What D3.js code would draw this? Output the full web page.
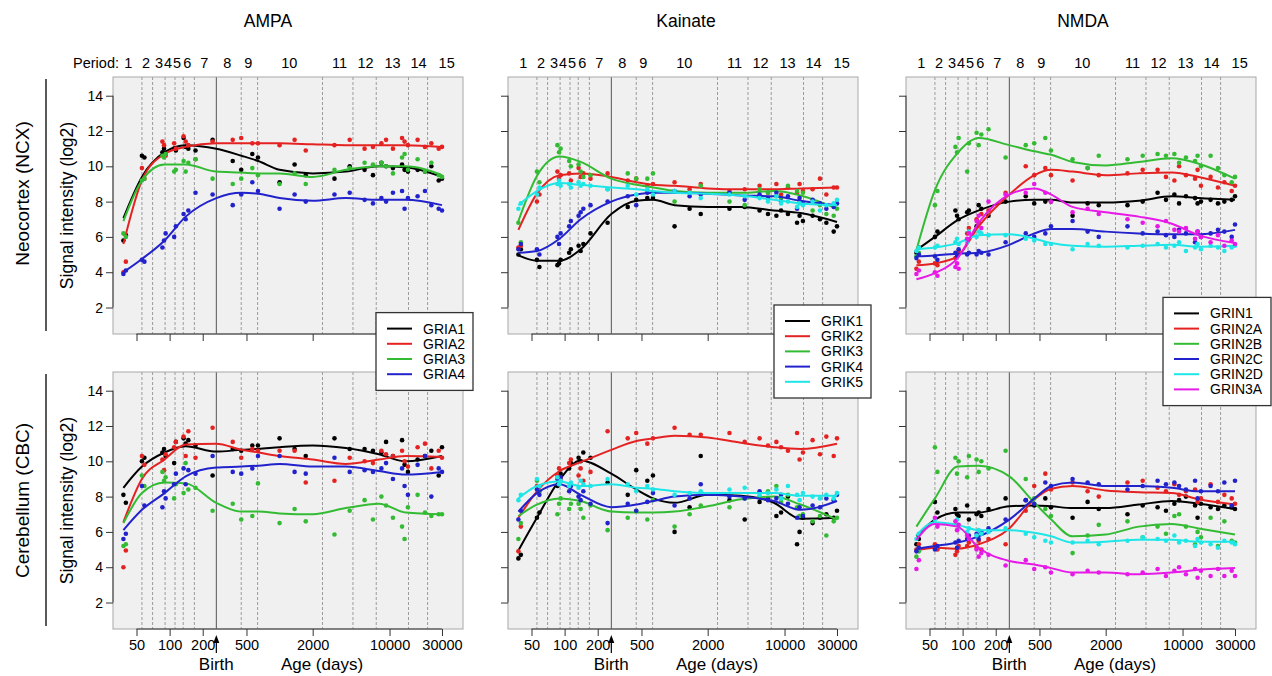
<!DOCTYPE html>
<html>
<head>
<meta charset="utf-8">
<script src="https://cdn.jsdelivr.net/npm/d3@7"></script>
<style>
  body { margin: 0; background: #fff; }
  svg text { font-family: "Liberation Sans", Arial, sans-serif; fill: #000; }
</style>
</head>
<body>
<svg id="chart" width="1272" height="676"></svg>
<script>
// ---- data ----
const families = ["AMPA", "Kainate", "NMDA"];
const regions = ["Neocortex (NCX)", "Cerebellum (CBC)"];
const ampaGenes = ["GRIA1", "GRIA2", "GRIA3", "GRIA4"];
const kainateGenes = ["GRIK1", "GRIK2", "GRIK3", "GRIK4", "GRIK5"];
const nmdaGenes = ["GRIN1", "GRIN2A", "GRIN2B", "GRIN2C", "GRIN2D", "GRIN3A"];
const geneColors = ["#000000", "#e52222", "#33bb33", "#2222cc", "#1fe6e6", "#e619e6"];

const periodLabels = ["1","2","3","4","5","6","7","8","9","10","11","12","13","14","15"];
const periodLabelDays = [42, 61, 80, 97, 117, 145, 207, 335, 520, 1227, 3506, 6050, 10660, 18380, 33100];
const periodBounds = [56, 70, 91, 112, 133, 168, 448, 631, 2457, 4649, 7571, 14876, 22181];
const birthDay = 266;
const xTicks = [50, 100, 200, 500, 2000, 10000, 30000];
const yTicks = [2, 4, 6, 8, 10, 12, 14];

// ages (days post conception) of the samples
const sampleDays = [38, 40, 56, 59, 86, 89, 92, 110, 114, 134, 140, 148, 172, 246, 375, 448, 565, 636,
  1000, 1370, 1730, 3157, 4343, 5930, 7070, 8430, 9300, 10740, 13000, 13700, 14700, 18000, 21000, 24000, 28000, 30000];
// ages at which the smoothed curves are read
const fitDays = [38, 56, 90, 140, 266, 450, 640, 1000, 2000, 4000, 8000, 14000, 30000];

const ampaNcxFit = [
  [7.06, 9.4, 10.8, 11.2, 11.0, 10.6, 10.3, 9.8, 9.6, 9.7, 10.0, 9.95, 9.4],
  [5.6, 9.2, 10.7, 11.1, 11.3, 11.3, 11.3, 11.3, 11.25, 11.2, 11.2, 11.2, 11.1],
  [6.9, 9.2, 10.1, 10.1, 9.7, 9.65, 9.6, 9.6, 9.4, 9.8, 10.0, 10.0, 9.5],
  [4.0, 4.75, 5.8, 7.15, 8.2, 8.5, 8.45, 8.2, 8.05, 8.2, 8.1, 8.1, 7.8]
];
const ampaNcxPts = [
  [5.8,6.1,10.6,10.5,10.8,11.0,10.7,11.0,10.9,11.6,11.1,11.0,10.9,11.5,10.3,9.8,10.7,10.5,9.1,10.1,9.5,9.3,10.0,9.8,9.5,10.2,10.0,9.9,10.1,9.8,9.7,9.8,9.7,10.0,9.2,9.3],
  [4.0,4.6,9.9,9.3,11.4,11.2,10.6,11.3,11.0,11.7,11.4,11.2,10.4,11.4,11.5,11.6,11.3,11.3,11.2,11.5,10.9,11.2,11.5,11.0,11.1,11.3,11.5,11.0,11.6,11.4,11.2,11.5,11.1,11.3,11.0,11.1],
  [6.2,6.0,9.2,9.3,10.6,10.5,10.7,9.7,9.8,10.3,9.7,10.2,10.4,9.3,9.0,9.3,9.9,9.5,9.0,9.6,9.0,9.8,9.9,10.2,10.1,10.2,10.0,9.6,10.5,10.7,9.8,10.4,9.7,10.2,9.5,9.4],
  [3.9,4.1,4.7,4.6,5.4,5.8,6.2,6.0,6.6,7.3,7.0,7.5,8.5,8.4,7.8,8.4,9.1,8.6,7.6,8.4,8.0,8.4,8.5,8.1,7.9,8.2,8.0,8.5,8.6,7.6,8.2,8.3,8.6,7.8,7.6,7.5]
];
const ampaCbcFit = [
  [8.5, 9.7, 10.5, 10.85, 10.55, 10.65, 10.7, 10.8, 10.9, 10.75, 10.4, 10.0, 10.3],
  [6.55, 9.0, 10.1, 10.95, 11.0, 10.65, 10.5, 10.3, 10.1, 9.85, 10.1, 10.3, 10.25],
  [6.5, 8.2, 8.8, 8.75, 7.65, 7.15, 7.15, 7.05, 7.0, 7.35, 7.6, 7.1, 7.0],
  [6.1, 7.25, 8.2, 9.15, 9.65, 9.7, 9.75, 9.85, 9.7, 9.7, 9.45, 9.25, 9.4]
];
const ampaCbcPts = [
  [8.1,7.65,10.0,10.2,10.5,10.7,10.3,9.9,11.1,11.3,11.0,11.2,10.9,9.2,10.7,10.6,10.9,10.9,11.3,10.7,10.3,11.3,10.7,10.7,10.6,10.5,11.1,10.3,11.2,9.8,9.4,10.1,10.3,10.6,9.2,10.8],
  [4.0,4.95,10.3,9.8,10.1,9.5,10.4,10.8,11.1,11.4,10.3,11.7,10.2,11.9,11.1,10.2,10.7,10.6,10.6,10.6,8.8,8.9,10.2,10.0,9.9,10.6,10.4,10.3,10.6,10.0,9.7,10.8,11.0,9.6,10.6,10.2],
  [5.2,5.3,9.2,8.6,9.4,8.9,9.1,7.9,8.7,8.2,9.9,8.4,8.5,7.2,7.6,6.7,6.9,8.75,6.5,7.3,6.6,5.85,7.2,7.8,6.7,8.0,7.5,6.8,6.3,5.6,7.4,8.1,7.1,6.9,7.0,7.0],
  [5.6,5.9,8.6,7.5,7.4,8.3,7.9,8.7,9.3,9.6,8.7,9.5,9.3,10.3,9.4,9.3,9.6,10.3,10.3,9.4,9.3,10.2,9.4,9.5,9.4,9.6,9.9,9.0,9.6,8.6,8.1,9.8,10.3,8.0,9.6,9.4]
];

const kainateNcxFit = [
  [4.95, 4.65, 4.65, 5.3, 7.3, 8.05, 8.1, 7.8, 7.7, 7.7, 7.5, 7.35, 6.85],
  [6.4, 8.45, 9.5, 9.6, 9.4, 9.1, 8.95, 8.9, 8.75, 8.7, 8.7, 8.75, 8.8],
  [6.9, 9.45, 10.55, 10.25, 9.3, 8.95, 8.8, 8.6, 8.5, 8.5, 8.6, 8.35, 7.6],
  [5.1, 5.2, 5.9, 7.0, 8.0, 8.4, 8.5, 8.5, 8.45, 8.35, 8.3, 8.05, 7.8],
  [7.8, 8.6, 9.05, 8.95, 8.8, 8.7, 8.6, 8.5, 8.45, 8.35, 8.1, 7.9, 7.8]
];
const kainateNcxPts = [
  [5.0,5.3,4.7,4.3,4.4,4.5,4.7,5.1,5.3,5.5,5.2,5.6,6.2,6.8,7.7,8.1,8.2,8.2,6.6,7.6,7.3,7.6,7.7,7.5,7.3,7.2,7.5,7.3,6.8,7.2,6.9,7.2,7.0,6.8,6.3,6.6],
  [5.4,5.5,8.0,8.4,9.7,9.3,9.5,9.6,9.2,9.9,9.4,9.6,9.3,9.6,9.2,9.3,8.9,9.0,9.1,8.7,9.0,8.6,8.7,8.9,8.5,9.0,8.4,8.8,8.5,9.0,8.6,8.7,9.3,8.4,8.8,8.8],
  [6.8,5.7,9.7,9.1,11.2,10.8,11.0,10.3,10.0,10.1,9.7,9.4,9.5,8.7,9.6,9.3,9.3,9.6,8.0,8.5,8.9,8.0,7.8,8.7,8.5,8.3,8.2,8.9,8.6,8.0,8.5,7.5,7.8,7.3,7.2,7.6],
  [5.3,5.6,5.3,5.0,6.0,5.6,6.2,6.6,6.9,7.2,7.4,7.6,7.8,8.0,8.3,7.8,8.5,8.5,8.6,8.3,8.4,8.5,8.1,8.4,8.2,8.5,8.0,8.3,7.6,8.2,7.9,8.1,7.9,7.6,7.7,7.9],
  [7.6,7.9,8.4,8.8,9.0,9.2,8.9,9.0,8.8,9.1,8.9,9.0,8.9,8.7,8.9,8.4,8.7,8.4,8.6,8.5,8.2,8.4,8.3,8.2,8.0,8.3,7.9,8.0,7.7,7.9,7.8,8.0,7.5,7.8,7.9,8.1]
];
const kainateCbcFit = [
  [4.95, 6.8, 8.95, 10.05, 9.3, 8.4, 7.9, 7.65, 8.1, 8.05, 7.65, 6.75, 6.8],
  [6.8, 8.3, 9.45, 9.95, 10.65, 11.15, 11.3, 11.45, 11.35, 11.05, 10.8, 10.7, 11.0],
  [6.9, 7.55, 7.9, 7.75, 7.15, 7.1, 7.1, 7.15, 7.45, 7.85, 8.0, 7.55, 6.7],
  [7.15, 8.2, 8.7, 8.1, 7.4, 7.55, 7.75, 8.0, 8.1, 8.0, 7.75, 7.25, 7.75],
  [7.9, 8.6, 8.85, 8.6, 8.7, 8.5, 8.45, 8.3, 8.2, 8.2, 8.2, 8.05, 8.05]
];
const kainateCbcPts = [
  [4.5,4.7,6.8,7.1,8.6,8.9,9.3,9.6,9.9,10.2,10.0,10.5,10.2,8.8,8.1,9.5,8.9,9.2,6.0,7.4,10.3,7.8,6.7,7.7,7.9,6.9,7.1,8.0,5.3,6.0,6.8,6.5,6.8,7.0,6.8,7.2],
  [4.9,6.3,8.6,8.3,9.2,9.6,9.0,9.9,10.1,9.2,9.6,8.9,9.4,11.7,11.3,11.6,11.0,11.3,11.9,11.5,11.5,11.6,11.1,11.3,10.9,11.1,10.8,10.6,11.6,10.1,10.5,11.2,10.4,11.4,10.3,11.3],
  [5.6,6.5,8.9,8.3,7.0,7.6,7.9,7.3,7.6,7.6,7.3,6.8,7.5,6.1,6.8,7.2,6.7,7.8,6.3,7.0,7.5,7.4,7.9,8.0,8.3,8.6,7.7,8.1,7.4,6.9,7.0,6.6,6.9,5.8,6.6,6.8],
  [6.7,7.2,8.4,8.1,9.0,8.7,9.1,8.3,8.6,8.0,7.8,8.3,7.6,6.5,7.6,7.2,7.7,8.2,7.5,7.9,8.7,8.0,7.9,8.3,7.8,7.9,8.1,7.6,6.8,7.4,6.9,7.5,7.4,7.9,7.8,8.1],
  [7.8,8.1,9.0,8.6,9.1,8.7,8.9,8.6,8.8,8.5,8.9,8.7,8.6,9.0,8.7,8.3,8.6,8.4,8.1,8.2,8.3,8.4,8.5,8.1,8.2,8.4,7.9,8.6,8.1,7.8,8.2,8.0,7.9,8.1,7.9,8.2]
];

const nmdaNcxFit = [
  [5.25, 6.0, 6.95, 7.5, 8.0, 8.1, 8.1, 7.95, 7.95, 8.05, 8.3, 8.2, 8.1],
  [4.4, 4.5, 4.9, 6.6, 8.4, 9.5, 9.8, 9.7, 9.5, 9.6, 9.65, 9.4, 8.9],
  [5.25, 8.65, 10.75, 11.6, 11.2, 10.85, 10.65, 10.25, 10.05, 10.25, 10.45, 10.15, 9.3],
  [4.9, 4.95, 5.05, 5.1, 5.55, 6.2, 6.45, 6.45, 6.3, 6.2, 6.15, 6.15, 6.4],
  [5.3, 5.4, 5.65, 6.1, 6.15, 5.9, 5.65, 5.5, 5.45, 5.5, 5.55, 5.45, 5.5],
  [3.6, 3.95, 4.8, 6.8, 8.4, 8.75, 8.4, 7.7, 7.4, 7.15, 6.75, 6.1, 5.65]
];
const nmdaNcxPts = [
  [5.1,5.4,6.0,6.3,7.5,7.2,7.0,7.4,7.5,6.6,7.8,7.6,7.2,8.0,8.3,7.9,8.0,8.0,7.2,7.9,7.8,7.8,8.0,8.5,8.1,8.4,7.9,8.3,8.2,7.9,8.0,8.1,7.9,8.0,8.1,8.3],
  [4.2,4.6,4.5,4.4,4.8,5.0,5.2,6.2,6.5,7.0,6.8,7.3,7.5,8.5,10.0,9.5,9.9,9.5,9.2,9.9,9.5,9.6,9.8,9.8,9.4,9.2,10.0,9.5,9.3,9.8,8.9,9.4,8.8,9.1,8.6,8.9],
  [4.9,5.1,7.8,8.6,11.1,10.8,11.6,9.7,11.3,11.9,11.2,11.8,12.1,10.5,11.2,11.3,11.6,10.9,10.4,9.9,10.6,10.4,10.6,10.7,10.6,10.7,10.2,10.5,10.3,10.6,10.0,10.6,9.9,9.5,9.1,9.4],
  [4.8,5.0,4.9,4.7,5.1,4.9,5.3,5.0,5.1,5.0,5.2,5.1,5.0,5.7,6.2,6.0,6.2,6.6,6.9,6.3,6.0,6.6,6.2,6.3,6.1,6.0,6.4,6.2,5.7,6.3,6.0,6.2,6.4,6.3,6.0,6.7],
  [5.2,5.4,5.4,5.5,5.7,5.9,5.6,5.7,6.3,6.0,6.3,6.2,6.1,6.1,5.9,5.8,5.6,5.6,5.3,5.6,5.5,5.4,5.5,5.6,5.4,5.5,5.7,5.2,5.4,5.6,5.3,5.5,5.4,5.2,5.4,5.5],
  [3.9,4.1,4.0,3.8,4.3,4.5,4.2,5.9,6.2,6.9,7.2,6.5,8.0,8.4,8.5,9.0,8.5,8.0,7.4,7.6,7.3,7.0,6.8,6.6,6.9,6.4,6.3,6.5,5.9,6.3,6.0,5.7,6.1,5.5,5.8,5.6]
];
const nmdaCbcFit = [
  [5.75, 6.7, 7.1, 7.1, 7.45, 7.5, 7.45, 7.35, 7.35, 7.55, 7.75, 7.6, 7.3],
  [4.95, 5.1, 5.05, 5.3, 6.2, 7.85, 8.45, 8.6, 8.35, 8.25, 8.2, 7.85, 7.55],
  [6.3, 7.9, 9.7, 9.75, 9.15, 7.65, 6.7, 5.75, 5.85, 6.3, 6.45, 6.2, 5.85],
  [5.05, 5.2, 5.4, 5.75, 6.7, 7.9, 8.6, 8.8, 8.6, 8.6, 8.5, 8.3, 8.3],
  [5.8, 6.55, 6.4, 6.1, 6.1, 5.95, 5.75, 5.4, 5.45, 5.55, 5.55, 5.45, 5.45],
  [5.55, 6.45, 6.3, 5.1, 4.35, 4.15, 3.95, 3.7, 3.7, 3.6, 3.7, 3.85, 3.95]
];
const nmdaCbcPts = [
  [5.3,5.6,7.7,7.1,7.3,7.0,6.9,7.5,6.7,7.0,7.1,6.9,7.3,7.9,7.8,7.5,7.9,7.4,6.8,7.7,7.3,7.0,7.5,7.4,7.2,7.6,7.8,8.0,7.5,6.8,7.6,7.4,7.3,7.5,7.4,7.3],
  [5.0,5.3,5.3,5.0,4.7,4.9,5.2,5.2,5.4,5.1,5.5,5.0,5.6,5.3,7.2,8.6,9.3,8.4,8.8,8.3,8.0,8.8,8.9,8.5,8.3,8.7,8.1,8.3,8.4,7.7,7.9,8.7,7.7,8.1,7.9,7.6],
  [4.6,4.9,10.8,9.4,10.2,9.3,10.0,9.1,10.3,10.1,9.4,10.0,9.6,10.6,9.0,7.9,7.3,6.9,4.8,5.8,6.4,6.6,5.7,6.3,5.9,6.9,7.0,6.3,5.3,6.0,5.7,6.8,5.2,6.6,5.5,5.4],
  [4.9,5.1,5.0,5.2,5.4,5.1,5.5,5.6,5.8,5.9,5.6,6.0,6.2,6.7,7.8,7.6,8.8,8.6,9.0,8.8,8.7,8.4,8.6,8.9,8.7,8.8,8.6,8.4,8.9,7.9,8.3,8.6,8.3,8.8,7.5,8.9],
  [5.6,5.9,6.7,6.4,6.4,6.7,6.2,6.0,6.2,5.8,6.1,5.9,6.0,6.2,5.9,5.7,5.5,5.4,5.4,5.5,5.3,5.5,5.7,5.6,5.5,5.8,5.4,5.5,5.2,5.6,5.4,5.3,5.1,5.5,5.4,5.3],
  [3.9,4.4,6.8,6.3,6.6,6.1,6.4,5.8,5.6,5.0,4.6,4.8,4.7,4.1,4.4,3.9,4.0,3.7,3.6,3.8,3.7,3.6,3.7,3.9,3.5,3.8,4.0,3.6,3.9,3.4,3.8,3.5,3.9,3.5,3.8,3.5]
];

// ---- layout ----
const colLeft = [113, 508, 906];
const colWidth = 350;
const rowTop = [77, 372];
const rowHeight = 257;
const titleX = [268, 686, 1083];
const legendLeft = [376, 774, 1163];
const legendRight = [473, 871, 1271];

const panels = [
  { col: 0, row: 0, genes: ampaGenes, fit: ampaNcxFit, pts: ampaNcxPts },
  { col: 0, row: 1, genes: ampaGenes, fit: ampaCbcFit, pts: ampaCbcPts },
  { col: 1, row: 0, genes: kainateGenes, fit: kainateNcxFit, pts: kainateNcxPts },
  { col: 1, row: 1, genes: kainateGenes, fit: kainateCbcFit, pts: kainateCbcPts },
  { col: 2, row: 0, genes: nmdaGenes, fit: nmdaNcxFit, pts: nmdaNcxPts },
  { col: 2, row: 1, genes: nmdaGenes, fit: nmdaCbcFit, pts: nmdaCbcPts }
];

const svg = d3.select("#chart");

function xScale(col) {
  return d3.scaleLog().domain([30.56, 46570]).range([colLeft[col], colLeft[col] + colWidth]);
}
function yScale(row) {
  return d3.scaleLinear().domain([0.5, 15.06]).range([rowTop[row] + rowHeight, rowTop[row]]);
}

panels.forEach(p => {
  const x = xScale(p.col), y = yScale(p.row);
  const g = svg.append("g");
  const left = colLeft[p.col], top = rowTop[p.row];

  g.append("rect")
    .attr("x", left).attr("y", top)
    .attr("width", colWidth).attr("height", rowHeight)
    .attr("fill", "#f0f0f0");

  // period boundaries
  g.selectAll("line.period")
    .data(periodBounds)
    .enter()
    .append("line")
    .attr("x1", d => x(d)).attr("x2", d => x(d))
    .attr("y1", top).attr("y2", top + rowHeight)
    .attr("stroke", "#777").attr("stroke-width", 0.7)
    .attr("stroke-dasharray", "3,2");

  g.append("line")
    .attr("x1", x(birthDay)).attr("x2", x(birthDay))
    .attr("y1", top).attr("y2", top + rowHeight)
    .attr("stroke", "#555").attr("stroke-width", 1);

  const line = d3.line()
    .x((d, i) => x(fitDays[i]))
    .y(d => y(d))
    .curve(d3.curveMonotoneX);

  p.genes.forEach((gene, gi) => {
    g.append("g")
      .selectAll("circle")
      .data(p.pts[gi])
      .enter()
      .append("circle")
      .attr("cx", (d, i) => x(sampleDays[i]))
      .attr("cy", d => y(d))
      .attr("r", 2.3)
      .attr("fill", geneColors[gi]);

    g.append("path")
      .datum(p.fit[gi])
      .attr("d", line)
      .attr("fill", "none")
      .attr("stroke", geneColors[gi])
      .attr("stroke-width", 2);
  });

  g.append("rect")
    .attr("x", left).attr("y", top)
    .attr("width", colWidth).attr("height", rowHeight)
    .attr("fill", "none").attr("stroke", "#a8a8a8").attr("stroke-width", 1);

  // y axis
  const yAxis = g.append("g")
    .attr("transform", `translate(${left},0)`)
    .call(d3.axisLeft(y).tickValues(yTicks).tickSize(7).tickPadding(3)
      .tickFormat(p.col === 0 ? d3.format("d") : ""));
  yAxis.select(".domain").remove();
  yAxis.selectAll("line").attr("stroke", "#333");
  yAxis.selectAll("text").attr("font-size", 14).attr("font-family", null);
  yAxis.append("line")
    .attr("y1", y(2)).attr("y2", y(14))
    .attr("stroke", "#333");

  // x axis
  const xAxis = g.append("g")
    .attr("transform", `translate(0,${top + rowHeight})`)
    .call(d3.axisBottom(x).tickValues(xTicks).tickSize(7).tickPadding(4)
      .tickFormat(p.row === 1 ? d3.format("d") : ""));
  xAxis.select(".domain").remove();
  xAxis.selectAll("line").attr("stroke", "#333");
  xAxis.selectAll("text").attr("font-size", 14.5).attr("font-family", null);
  xAxis.append("line")
    .attr("x1", x(50)).attr("x2", x(30000))
    .attr("stroke", "#333");

  if (p.col === 0) {
    g.append("text")
      .attr("transform", `translate(${left - 46},${top + rowHeight / 2}) rotate(-90)`)
      .attr("text-anchor", "middle")
      .attr("dy", "0.35em")
      .attr("font-size", 17.5)
      .text("Signal intensity (log2)");
  }

  if (p.row === 0) {
    // period header
    g.selectAll("text.per")
      .data(periodLabels)
      .enter()
      .append("text")
      .attr("x", (d, i) => x(periodLabelDays[i]))
      .attr("y", 68)
      .attr("text-anchor", "middle")
      .attr("font-size", 14.5)
      .text(d => d);
    if (p.col === 0) {
      g.append("text")
        .attr("x", 119).attr("y", 68)
        .attr("text-anchor", "end")
        .attr("font-size", 14.5)
        .text("Period:");
    }
    g.append("text")
      .attr("x", titleX[p.col]).attr("y", 27)
      .attr("text-anchor", "middle")
      .attr("font-size", 17.5)
      .text(families[p.col]);
  } else {
    const bx = x(birthDay);
    g.append("line")
      .attr("x1", bx).attr("x2", bx)
      .attr("y1", 653).attr("y2", 640)
      .attr("stroke", "#000").attr("stroke-width", 1.2);
    g.append("path")
      .attr("d", `M${bx - 3},${643} L${bx},${635} L${bx + 3},${643} Z`)
      .attr("fill", "#000");
    g.append("text")
      .attr("x", bx).attr("y", 670)
      .attr("text-anchor", "middle")
      .attr("font-size", 17)
      .text("Birth");
    g.append("text")
      .attr("x", left + 209).attr("y", 670)
      .attr("text-anchor", "middle")
      .attr("font-size", 17)
      .text("Age (days)");
  }
});

// row labels
regions.forEach((r, ri) => {
  const top = rowTop[ri];
  svg.append("line")
    .attr("x1", 46).attr("x2", 46)
    .attr("y1", top + 2).attr("y2", top + rowHeight - 3)
    .attr("stroke", "#000").attr("stroke-width", 1.3);
  svg.append("text")
    .attr("transform", `translate(22,${top + rowHeight / 2 - (ri === 0 ? 12 : 0)}) rotate(-90)`)
    .attr("text-anchor", "middle")
    .attr("dy", "0.35em")
    .attr("font-size", 19)
    .text(r);
});

// legends
[ampaGenes, kainateGenes, nmdaGenes].forEach((genes, ci) => {
  const rowGap = 15.2;
  const h = genes.length * rowGap + 17;
  const top = 351.5 - h / 2;
  const lg = svg.append("g");
  lg.append("rect")
    .attr("x", legendLeft[ci]).attr("y", top)
    .attr("width", legendRight[ci] - legendLeft[ci]).attr("height", h)
    .attr("fill", "#fff").attr("stroke", "#333").attr("stroke-width", 1.3);
  genes.forEach((gene, gi) => {
    const yy = top + 16 + gi * rowGap;
    lg.append("line")
      .attr("x1", legendLeft[ci] + 11).attr("x2", legendLeft[ci] + 36)
      .attr("y1", yy).attr("y2", yy)
      .attr("stroke", geneColors[gi]).attr("stroke-width", 2);
    lg.append("text")
      .attr("x", legendLeft[ci] + 47).attr("y", yy)
      .attr("dy", "0.35em")
      .attr("font-size", 14)
      .text(gene);
  });
});
</script>
</body>
</html>
